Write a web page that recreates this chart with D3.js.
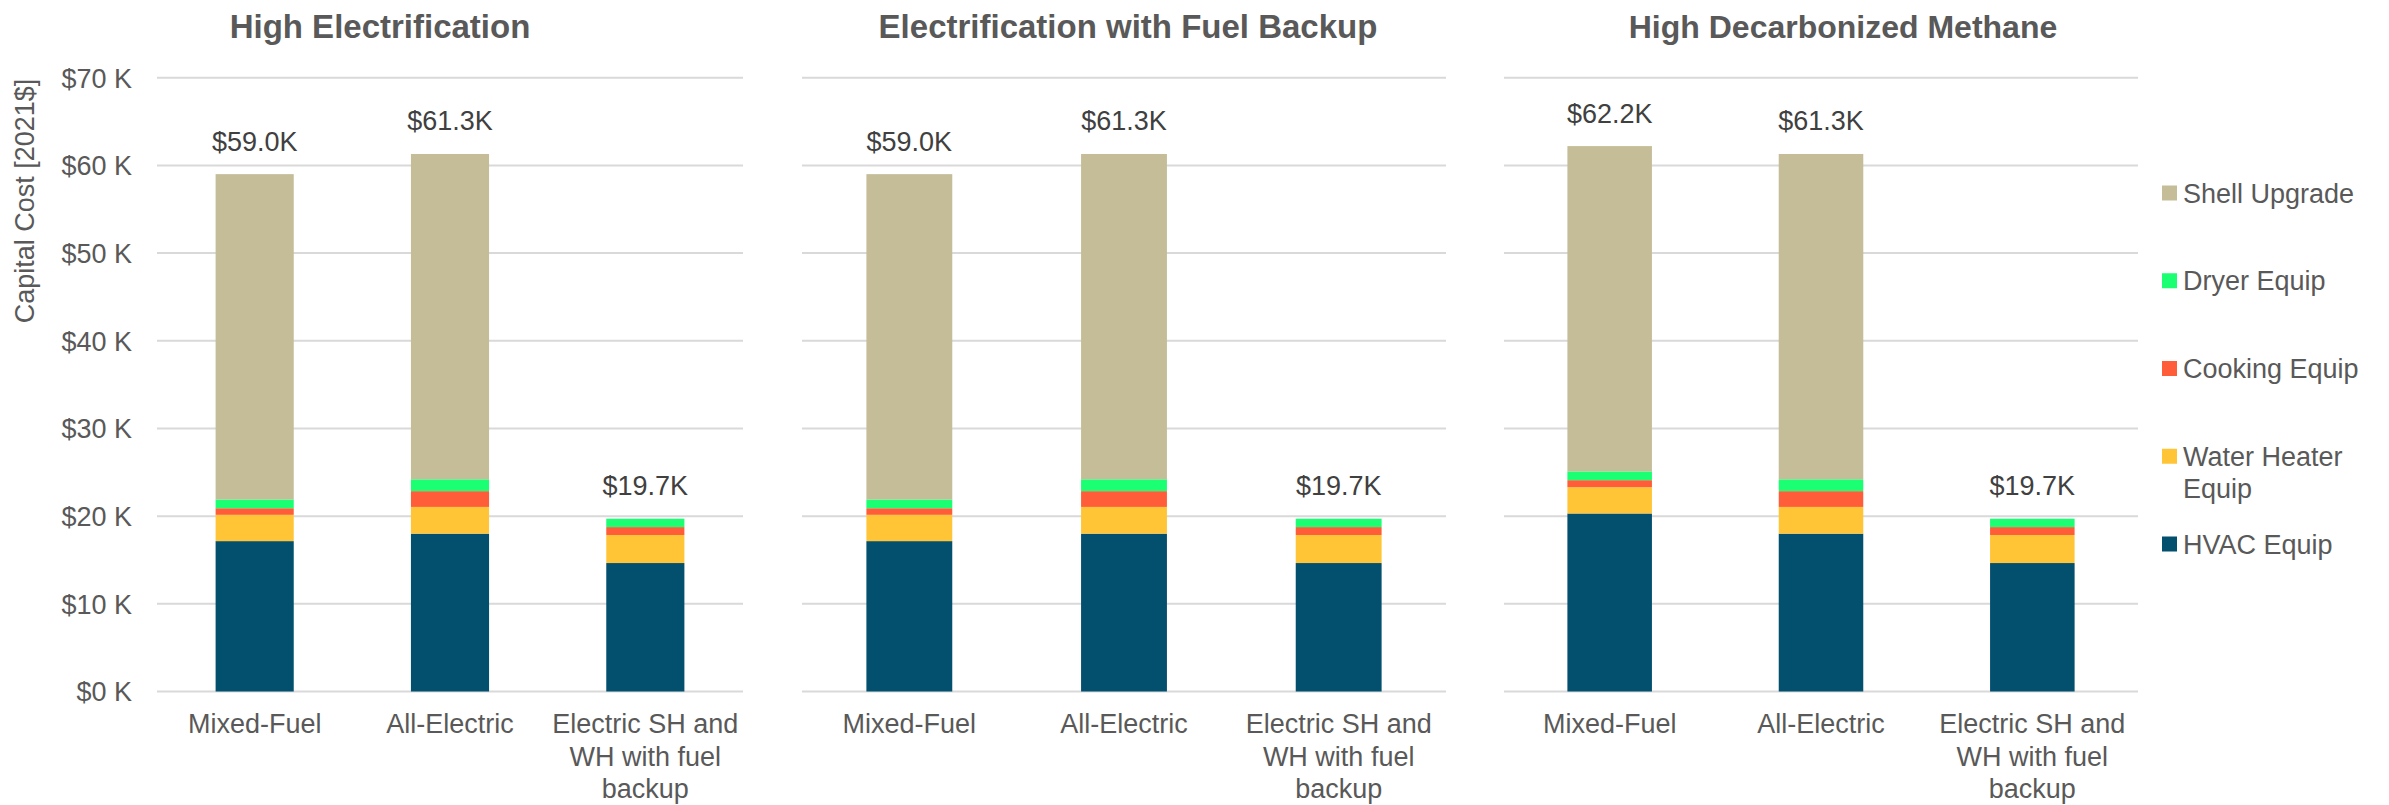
<!DOCTYPE html>
<html>
<head>
<meta charset="utf-8">
<script src="https://cdn.jsdelivr.net/npm/d3@7"></script>
<style>
  html, body { margin: 0; padding: 0; background: #ffffff; }
  svg { display: block; font-family: "Liberation Sans", Arial, sans-serif; }
</style>
</head>
<body>
<svg id="chart" width="2389" height="805"></svg>
<script>
// Residential capital cost by building archetype, three scenarios (thousand 2021$)
const panelTitles = ["High Electrification", "Electrification with Fuel Backup", "High Decarbonized Methane"];
const categories = ["Mixed-Fuel", "All-Electric", "Electric SH and WH with fuel backup"];
const seriesNames = ["HVAC Equip", "Water Heater Equip", "Cooking Equip", "Dryer Equip", "Shell Upgrade"];
const seriesColors = ["#034F6E", "#FFC537", "#FF5D39", "#1BFF72", "#C4BD97"];

// one row per panel, one value per category
const hvacEquip        = [[17.15, 18.0, 14.65], [17.15, 18.0, 14.65], [20.3, 18.0, 14.65]];
const waterHeaterEquip = [[3.0, 3.05, 3.2],     [3.0, 3.05, 3.2],     [3.0, 3.05, 3.2]];
const cookingEquip     = [[0.75, 1.8, 0.9],     [0.75, 1.8, 0.9],     [0.8, 1.8, 0.9]];
const dryerEquip       = [[1.0, 1.35, 0.95],    [1.0, 1.35, 0.95],    [1.0, 1.35, 0.95]];
const shellUpgrade     = [[37.1, 37.1, 0],      [37.1, 37.1, 0],      [37.1, 37.1, 0]];

const yTicks = [0, 10, 20, 30, 40, 50, 60, 70];
const yAxisTitle = "Capital Cost [2021$]";

const seriesValues = [hvacEquip, waterHeaterEquip, cookingEquip, dryerEquip, shellUpgrade];

// layout
const plotTop = 77.7, plotBottom = 691.5;
const panels = [
  { x0: 157, x1: 743, titleX: 380, titleSize: 33 },
  { x0: 802, x1: 1446, titleX: 1128, titleSize: 33 },
  { x0: 1504, x1: 2138, titleX: 1843, titleSize: 32 }
];
const textGray = "#595959";
const labelDark = "#404040";
const gridColor = "#D9D9D9";

const svg = d3.select("#chart");
const y = d3.scaleLinear().domain([0, 70]).range([plotBottom, plotTop]);

function wrap(textSel, width, lineHeight) {
  textSel.each(function () {
    const text = d3.select(this);
    const words = text.text().split(/\s+/);
    const xPos = text.attr("x");
    text.text(null);
    let line = [];
    let tspan = text.append("tspan").attr("x", xPos).attr("dy", 0);
    words.forEach(w => {
      line.push(w);
      tspan.text(line.join(" "));
      if (tspan.node().getComputedTextLength() > width && line.length > 1) {
        line.pop();
        tspan.text(line.join(" "));
        line = [w];
        tspan = text.append("tspan").attr("x", xPos).attr("dy", lineHeight).text(w);
      }
    });
  });
}

panels.forEach((p, pi) => {
  const g = svg.append("g");
  const x = d3.scaleBand().domain(categories).range([p.x0, p.x1]).paddingInner(0.6).paddingOuter(0.3);

  // gridlines
  g.append("g").selectAll("line").data(yTicks).join("line")
    .attr("x1", p.x0).attr("x2", p.x1)
    .attr("y1", d => y(d)).attr("y2", d => y(d))
    .attr("stroke", gridColor).attr("stroke-width", 2);

  // stacked bars
  const rows = categories.map((c, ci) => {
    const r = { category: c };
    seriesNames.forEach((s, si) => { r[s] = seriesValues[si][pi][ci]; });
    return r;
  });
  const stacked = d3.stack().keys(seriesNames)(rows);
  g.append("g").selectAll("g").data(stacked).join("g")
    .attr("fill", (d, i) => seriesColors[i])
    .selectAll("rect").data(d => d).join("rect")
    .attr("x", d => x(d.data.category))
    .attr("width", x.bandwidth())
    .attr("y", d => y(d[1]))
    .attr("height", d => Math.max(0, y(d[0]) - y(d[1])));

  // totals above bars
  g.append("g").selectAll("text").data(rows).join("text")
    .attr("x", d => x(d.category) + x.bandwidth() / 2)
    .attr("y", d => y(d3.sum(seriesNames, s => d[s])) - 23.5)
    .attr("text-anchor", "middle")
    .attr("font-size", 27)
    .attr("fill", labelDark)
    .text(d => "$" + d3.sum(seriesNames, s => d[s]).toFixed(1) + "K");

  // category labels
  g.append("g").selectAll("text").data(categories).join("text")
    .attr("x", d => x(d) + x.bandwidth() / 2)
    .attr("y", 733)
    .attr("text-anchor", "middle")
    .attr("font-size", 27)
    .attr("fill", textGray)
    .text(d => d)
    .call(wrap, x.step(), 32.5);

  // panel title
  g.append("text")
    .attr("x", p.titleX).attr("y", 37.5)
    .attr("text-anchor", "middle")
    .attr("font-size", p.titleSize).attr("font-weight", "bold")
    .attr("fill", textGray)
    .text(panelTitles[pi]);

  // value axis on the first panel only
  if (pi === 0) {
    const axis = d3.axisLeft(y).tickValues(yTicks).tickSize(0).tickPadding(0)
      .tickFormat(d => "$" + d + " K");
    const ag = g.append("g").attr("transform", `translate(132,0)`).call(axis);
    ag.select(".domain").remove();
    ag.selectAll("text")
      .attr("font-size", 27)
      .attr("font-family", "'Liberation Sans', Arial, sans-serif")
      .attr("fill", textGray)
      .attr("dy", "0.35em");

    g.append("text")
      .attr("transform", "translate(34,201) rotate(-90)")
      .attr("text-anchor", "middle")
      .attr("font-size", 27)
      .attr("fill", textGray)
      .text(yAxisTitle);
  }
});

// legend (top to bottom: last stacked series first)
const legendOrder = seriesNames.map((s, i) => i).reverse();
const lg = svg.append("g");
const legendY = d3.scaleLinear().domain([0, 4]).range([193, 544]);
legendOrder.forEach((si, k) => {
  const cy = legendY(k);
  lg.append("rect")
    .attr("x", 2162).attr("y", cy - 7.5)
    .attr("width", 15).attr("height", 15)
    .attr("fill", seriesColors[si]);
  lg.append("text")
    .attr("x", 2183).attr("y", cy + 9.5)
    .attr("font-size", 27)
    .attr("fill", textGray)
    .text(seriesNames[si])
    .call(wrap, 200, 32);
});
</script>
</body>
</html>
